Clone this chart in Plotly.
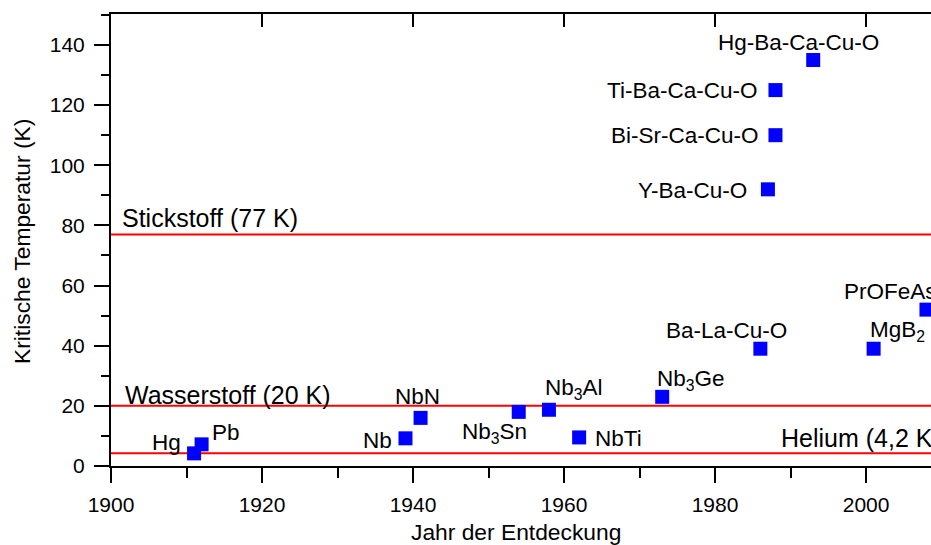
import plotly.graph_objects as go

# Superconductors: discovery year and critical temperature (K)
materials = ["Hg", "Pb", "Nb", "NbN", "Nb<sub>3</sub>Sn", "Nb<sub>3</sub>Al", "NbTi",
             "Nb<sub>3</sub>Ge", "Ba-La-Cu-O", "Y-Ba-Cu-O", "Bi-Sr-Ca-Cu-O",
             "Ti-Ba-Ca-Cu-O", "Hg-Ba-Ca-Cu-O", "MgB<sub>2</sub>", "PrOFeAs"]
years = [1911, 1912, 1939, 1941, 1954, 1958, 1962, 1973, 1986, 1987, 1988, 1988,
         1993, 2001, 2008]
tc = [4.2, 7.2, 9.2, 16, 18, 18.7, 9.5, 23, 39, 92, 110, 125, 135, 39, 52]

# Coolants and their boiling points (K)
coolants = ["Helium (4,2 K)", "Wasserstoff (20 K)", "Stickstoff (77 K)"]
coolant_temps = [4.2, 20, 77]

x_ticks = [1900, 1920, 1940, 1960, 1980, 2000]
y_ticks = [0, 20, 40, 60, 80, 100, 120, 140]

FONT = "Liberation Sans, Arial, sans-serif"

# label placement per material: (xanchor, xshift px, yshift px)
label_place = [
    ("right", -11, 11), ("left", 8, 12), ("right", -11, -2), ("center", -3, 21),
    ("right", 10, -21), ("left", -6, 21), ("left", 14, -1), ("left", -7, 17),
    ("right", 29, 18), ("right", -19, -1), ("right", -14, 0), ("right", -16, 0),
    ("left", -97, 18), ("left", -6, 18), ("left", -84, 18),
]
# coolant label placement: (x, xanchor, xshift px, yshift px)
coolant_place = [
    (1988.5, "left", 0, 15), (1900, "left", 12, 11), (1900, "left", 9, 16),
]

fig = go.Figure()

fig.add_trace(go.Scatter(
    x=years, y=tc, mode="markers",
    marker=dict(symbol="square", size=14, color="#0000ff", line=dict(width=0)),
    showlegend=False, hoverinfo="x+y",
))
# helper trace so the mirrored top axis is drawn
fig.add_trace(go.Scatter(
    x=[x_ticks[0]], y=[0], xaxis="x2", mode="markers",
    marker=dict(opacity=0), showlegend=False, hoverinfo="skip",
))

for temp in coolant_temps:
    fig.add_shape(type="line", xref="paper", x0=0, x1=1, yref="y", y0=temp, y1=temp,
                  line=dict(color="#ff0000", width=2), layer="below")

annotations = []
for name, temp, (ax, anc, dx, dy) in zip(coolants, coolant_temps, coolant_place):
    annotations.append(dict(x=ax, y=temp, xref="x", yref="y", text=name,
                            xanchor=anc, yanchor="middle", xshift=dx, yshift=dy,
                            showarrow=False, font=dict(family=FONT, size=25, color="black")))

for name, yr, t, (anc, dx, dy) in zip(materials, years, tc, label_place):
    annotations.append(dict(x=yr, y=t, xref="x", yref="y", text=name,
                            xanchor=anc, yanchor="middle", xshift=dx, yshift=dy,
                            showarrow=False, font=dict(family=FONT, size=22.5, color="black")))

# axis titles
annotations.append(dict(x=1953.6, y=-0.146, xref="x", yref="paper",
                        text="Jahr der Entdeckung", showarrow=False,
                        xanchor="center", yanchor="middle",
                        font=dict(family=FONT, size=22.8, color="black")))
annotations.append(dict(x=-0.1085, y=0.4956, xref="paper", yref="paper",
                        text="Kritische Temperatur (K)", showarrow=False, textangle=-90,
                        xanchor="center", yanchor="middle",
                        font=dict(family=FONT, size=22.8, color="black")))

x_range = [1900, 2008.6]

fig.update_layout(
    width=931, height=545,
    margin=dict(l=111, r=0, t=14, b=79, pad=0),
    paper_bgcolor="white", plot_bgcolor="white",
    font=dict(family=FONT, size=21, color="black"),
    annotations=annotations,
    xaxis=dict(
        range=x_range, tickvals=x_ticks, ticks="outside", ticklen=15, tickwidth=2,
        tickcolor="black", showline=True, linewidth=2, linecolor="black",
        showgrid=False, zeroline=False, tickfont=dict(size=21), ticklabelstandoff=4,
        automargin=False,
        minor=dict(dtick=10, tick0=1900, ticks="outside", ticklen=10, tickwidth=2,
                   tickcolor="black", showgrid=False),
    ),
    xaxis2=dict(
        range=x_range, overlaying="x", side="top", anchor="y",
        tickvals=x_ticks, ticks="inside", ticklen=13, tickwidth=2, tickcolor="black",
        showline=True, linewidth=2, linecolor="black", showticklabels=False,
        showgrid=False, zeroline=False, automargin=False,
    ),
    yaxis=dict(
        range=[0, 150.3], tickvals=y_ticks, ticks="outside", ticklen=15, tickwidth=2,
        tickcolor="black", showline=True, linewidth=2, linecolor="black",
        showgrid=False, zeroline=False, tickfont=dict(size=21), ticklabelstandoff=5,
        automargin=False,
        minor=dict(dtick=10, tick0=0, ticks="outside", ticklen=8, tickwidth=2,
                   tickcolor="black", showgrid=False),
    ),
)

fig.write_html("out.html")
